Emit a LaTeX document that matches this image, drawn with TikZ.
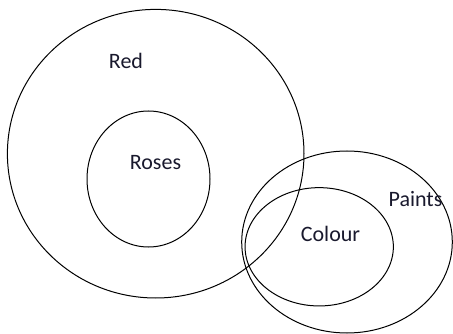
\documentclass[tikz,border=0pt]{standalone}
\usepackage{fontspec}
\setmainfont{Carlito}
\usepackage{tikz}
\usetikzlibrary{shapes.geometric}

\definecolor{labeltext}{RGB}{25,25,45}

\begin{document}
\begin{tikzpicture}[
    x=1pt, y=-1pt,
    set/.style={
        ellipse, draw, line width=1pt, inner sep=0pt
    },
    setname/.style={
        font=\fontsize{22}{26}\selectfont, text=labeltext, inner sep=0pt,
        anchor=base
    },
]
\useasboundingbox (0,0) rectangle (453,334);

% Sets
\node[set, minimum width=296.6pt, minimum height=288.6pt] (red) at (155.7,153.7) {};
\node[set, minimum width=123pt, minimum height=136pt] (roses) at (148.5,179) {};
\node[set, minimum width=210.6pt, minimum height=182pt] (paints) at (347,242) {};
\node[set, minimum width=148.3pt, minimum height=118.3pt] (colour) at (319.2,246.8) {};

% Labels
\node[setname] (redname) at (126,68.5) {Red};
\node[setname] (rosesname) at (155.5,169.5) {Roses};
\node[setname] (paintsname) at (415.5,206.5) {Paints};
\node[setname] (colourname) at (330.5,241.5) {Colour};

\end{tikzpicture}
\end{document}
